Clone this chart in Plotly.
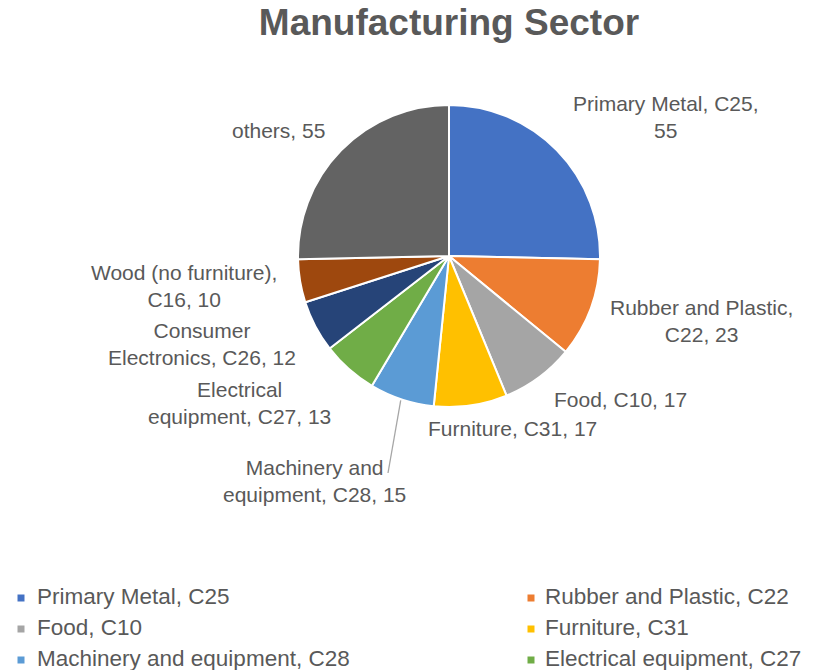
import math
import plotly.graph_objects as go

# Sector shares of the manufacturing sample
categories = [
    "Primary Metal, C25",
    "Rubber and Plastic, C22",
    "Food, C10",
    "Furniture, C31",
    "Machinery and equipment, C28",
    "Electrical equipment, C27",
    "Consumer Electronics, C26",
    "Wood (no furniture), C16",
    "others",
]
values = [55, 23, 17, 17, 15, 13, 12, 10, 55]
colors = ["#4472C4", "#ED7D31", "#A5A5A5", "#FFC000", "#5B9BD5",
          "#70AD47", "#264478", "#9E480E", "#636363"]

# Data-label text, with the line breaks used around the pie
label_breaks = [
    "Primary Metal, C25,<br>{v}",
    "Rubber and Plastic,<br>C22, {v}",
    "Food, C10, {v}",
    "Furniture, C31, {v}",
    "Machinery and<br>equipment, C28, {v}",
    "Electrical<br>equipment, C27, {v}",
    "Consumer<br>Electronics, C26, {v}",
    "Wood (no furniture),<br>C16, {v}",
    "others, {v}",
]
# label centres in pixels
label_pos = [(666, 117), (701, 321), (620, 400), (512, 428), (314, 481),
             (239, 403), (202, 344), (184, 286), (278, 130)]

W, H = 831, 670
TEXT = "#595959"
FONT = "Liberation Sans, Arial, sans-serif"

# pie geometry in pixels
cx, cy, r = 449, 256, 151


def px(x):
    return x / W


def py(y):
    return 1 - y / H


fig = go.Figure(go.Pie(
    labels=categories,
    values=values,
    sort=False,
    direction="clockwise",
    rotation=0,
    textinfo="none",
    hoverinfo="label+value",
    marker=dict(colors=colors, line=dict(color="white", width=2)),
    domain=dict(x=[px(cx - r), px(cx + r)], y=[py(cy + r), py(cy - r)]),
    showlegend=False,
))

annotations = []
for tmpl, v, (lx, ly) in zip(label_breaks, values, label_pos):
    annotations.append(dict(
        text=tmpl.format(v=v), x=px(lx), y=py(ly), xref="paper", yref="paper",
        xanchor="center", yanchor="middle", showarrow=False,
        font=dict(family=FONT, size=21, color=TEXT),
    ))

shapes = []
# leader line from the middle of the machinery slice to its label
total = sum(values)
idx = 4
mid = (sum(values[:idx]) + values[idx] / 2) / total * 2 * math.pi
sx = cx + r * math.sin(mid)
sy = cy - r * math.cos(mid)
shapes.append(dict(type="line", xref="paper", yref="paper",
                   x0=px(sx - 1), y0=py(sy + 1), x1=px(388), y1=py(473),
                   line=dict(color="#A6A6A6", width=1.3)))

# legend: two columns, markers + text; rows that start past the bottom
# edge of the canvas are left out
col_marker = [21, 531]
col_text = [35, 543]
row_y0, row_step = 596, 31
LEG_SIZE = 22.5
for i, (name, c) in enumerate(zip(categories, colors)):
    row, col = divmod(i, 2)
    y = row_y0 + row * row_step
    if y > H - 5:
        break
    mx = col_marker[col]
    shapes.append(dict(type="rect", xref="paper", yref="paper",
                       x0=px(mx - 3.5), x1=px(mx + 3.5),
                       y0=py(y + 5.5), y1=py(y - 1.5),
                       fillcolor=c, line=dict(width=0)))
    annotations.append(dict(
        text=name, x=px(col_text[col]), y=py(y), xref="paper", yref="paper",
        xanchor="left", yanchor="middle", showarrow=False,
        font=dict(family=FONT, size=LEG_SIZE, color=TEXT),
    ))

fig.update_layout(
    width=W, height=H,
    margin=dict(l=0, r=0, t=0, b=0),
    paper_bgcolor="white",
    plot_bgcolor="white",
    title=dict(text="Manufacturing Sector", x=px(449), xanchor="center",
               y=py(22), yanchor="middle",
               font=dict(family=FONT, size=37, color=TEXT, weight=700)),
    annotations=annotations,
    shapes=shapes,
)

fig.write_html("out.html")
